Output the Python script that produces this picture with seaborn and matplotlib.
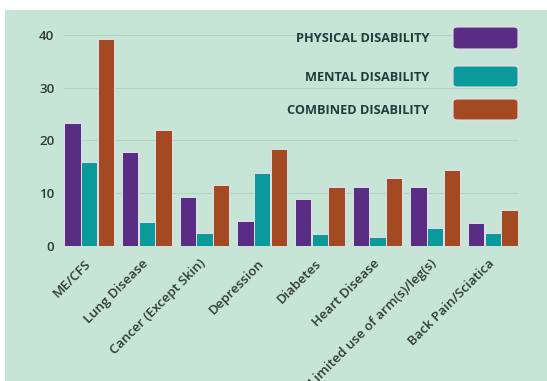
import matplotlib
matplotlib.use("Agg")
import matplotlib.pyplot as plt
import matplotlib.transforms as mtransforms
from matplotlib.patches import Rectangle, FancyBboxPatch
import seaborn as sns
import pandas as pd

categories = ["ME/CFS", "Lung Disease", "Cancer (Except Skin)", "Depression",
              "Diabetes", "Heart Disease", "Limited use of arm(s)/leg(s)",
              "Back Pain/Sciatica"]
physical = [23.3, 17.8, 9.2, 4.8, 9.0, 11.2, 11.1, 4.4]
mental = [16.0, 4.5, 2.5, 13.9, 2.3, 1.8, 3.4, 2.5]
combined = [39.2, 21.9, 11.6, 18.4, 11.2, 12.9, 14.4, 6.8]
series_names = ["PHYSICAL DISABILITY", "MENTAL DISABILITY", "COMBINED DISABILITY"]
colors = ["#5a2d84", "#0a9a9b", "#a44a22"]
yticks = [0, 10, 20, 30, 40]

rows = []
for name, vals in zip(series_names, [physical, mental, combined]):
    for c, v in zip(categories, vals):
        rows.append({"category": c, "series": name, "value": v})
df = pd.DataFrame(rows)

sns.set_theme(style="white")
plt.rcParams["font.family"] = ["Open Sans", "DejaVu Sans"]

W, H = 547, 381
fig = plt.figure(figsize=(W / 100, H / 100), dpi=100)
fig.patch.set_facecolor("white")
bg = "#c7e5d6"
fig.add_artist(Rectangle((5 / W, 0), 1, (H - 10) / H, transform=fig.transFigure,
                         facecolor=bg, edgecolor="none", zorder=0))

ax = fig.add_axes([64 / W, 1 - 246 / H, (518 - 64) / W, (246 - 29.7) / H])
ax.set_facecolor(bg)
ax.patch.set_alpha(0)

width = 0.867
sns.barplot(data=df, x="category", y="value", hue="series", hue_order=series_names,
            palette=colors, saturation=1, width=width, gap=0.02, edgecolor="#e6dcea",
            linewidth=0.7, ax=ax, zorder=3, legend=False)

ax.set_xlim(-width / 2, len(categories) - 1 + width / 2)
ax.set_ylim(0, 41)
ax.set_yticks(yticks)
ax.set_yticklabels([str(t) for t in yticks], fontsize=9.5, color="#2f3a38",
                   fontweight="semibold")
ax.tick_params(axis="y", length=0, pad=7)
ax.tick_params(axis="x", length=0, pad=3)
ax.yaxis.grid(True, color="#b3d4c3", linewidth=0.8, zorder=0)
ax.set_axisbelow(True)
for s in ax.spines.values():
    s.set_visible(False)
ax.set_xlabel("")
ax.set_ylabel("")
ax.set_xticks(range(len(categories)))
ax.set_xticklabels(categories, rotation=45, ha="right", va="top",
                   rotation_mode="anchor", fontsize=9.5, color="#2f3a38",
                   fontweight="semibold")
offset = mtransforms.ScaledTranslation(-5 / 100, -7 / 100, fig.dpi_scale_trans)
for lbl in ax.get_xticklabels():
    lbl.set_transform(lbl.get_transform() + offset)

# legend drawn at upper right
box_y = [(27, 49), (66, 87), (99, 120)]
for (y0, y1), name, col in zip(box_y, series_names, colors):
    fig.add_artist(FancyBboxPatch((453 / W, 1 - y1 / H), (518 - 453) / W, (y1 - y0) / H,
                                  boxstyle="round,pad=0,rounding_size=0.008",
                                  transform=fig.transFigure, facecolor=col,
                                  edgecolor="#e6dcea", linewidth=0.8, zorder=5))
    fig.text(429 / W, 1 - ((y0 + y1) / 2 + 1) / H, name, ha="right", va="center",
             fontsize=9.2, fontweight="bold", color="#1f3d3b", zorder=5)

fig.savefig("out.png", dpi=100)
